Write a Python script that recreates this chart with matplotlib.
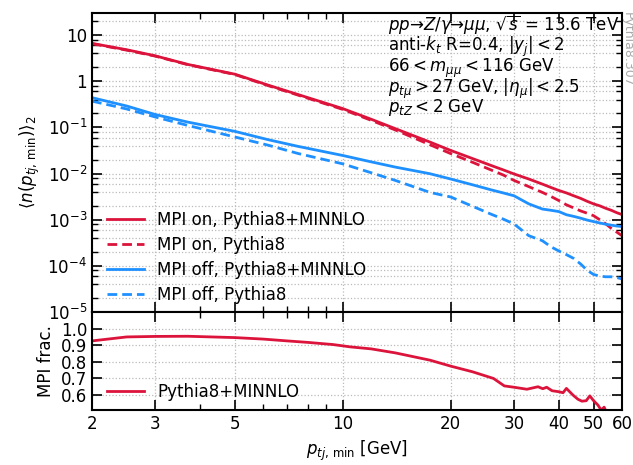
#!/usr/bin/env python
"""
Mean number of jets above p_t,min, MPI on/off, with MPI fraction panel.
"""

import numpy as np
import matplotlib
matplotlib.use("Agg")
import matplotlib.pyplot as plt
from matplotlib.ticker import FixedLocator, FuncFormatter, NullFormatter

# p_t,min values (GeV) for the upper panel
pt = [2, 2.5, 3, 3.7, 5, 6.2, 7.5, 10, 12, 14, 17.5, 20, 23, 26, 28, 30,
      33, 36, 38, 40, 42, 44, 46, 48, 50, 52, 54, 56, 58, 60]

mpi_on_minnlo = [6.6, 4.8, 3.55, 2.31, 1.42, 0.82, 0.515, 0.255, 0.150, 0.094,
                 0.048, 0.0316, 0.0211, 0.0148, 0.0120, 0.0098, 0.0076, 0.0059,
                 0.0050, 0.0043, 0.0038, 0.0033, 0.0029, 0.0025, 0.0022,
                 0.0020, 0.00177, 0.00160, 0.00142, 0.00129]
mpi_on_py8 = [6.5, 4.7, 3.5, 2.28, 1.40, 0.80, 0.50, 0.245, 0.142, 0.088,
              0.042, 0.027, 0.0175, 0.0118, 0.0093, 0.0071, 0.0052, 0.0039,
              0.0032, 0.0026, 0.0021, 0.0018, 0.00155, 0.00138, 0.00122,
              0.00100, 0.00082, 0.00065, 0.00054, 0.00045]
mpi_off_minnlo = [0.44, 0.29, 0.19, 0.13, 0.082, 0.054, 0.0388, 0.0246, 0.0179,
                  0.0138, 0.0099, 0.0076, 0.0057, 0.0044, 0.0038, 0.0033,
                  0.0022, 0.0017, 0.0016, 0.00150, 0.00128, 0.00118, 0.00108,
                  0.00098, 0.00091, 0.00085, 0.00080, 0.00076, 0.00073, 0.00071]
mpi_off_py8 = [0.37, 0.25, 0.168, 0.11, 0.062, 0.041, 0.0272, 0.0162, 0.0104,
               0.0071, 0.0039, 0.0031, 0.00195, 0.0013, 0.00103, 0.00081,
               0.00045, 0.00035, 0.00026, 0.00021, 0.000175, 0.000145,
               0.00011, 8.0e-5, 6.5e-5, 6.0e-5, 5.8e-5, 5.8e-5, 5.6e-5, 5.2e-5]

# lower panel: MPI fraction, Pythia8+MINNLO
frac_pt = [2, 2.5, 3, 3.7, 5, 6, 7, 8, 9.4, 10.5, 12, 14, 17.5, 20, 23, 26.3,
           28.2, 30, 32.6, 35, 36.1, 37, 38.3, 40, 41.1, 42, 43.8, 45.2, 46.4,
           47.7, 48.8, 50, 51.4, 52.5, 53.5, 54.5, 56, 60]
mpi_frac = [0.926, 0.95, 0.953, 0.954, 0.946, 0.937, 0.926, 0.917, 0.904, 0.89,
            0.878, 0.854, 0.81, 0.774, 0.74, 0.70, 0.655, 0.647, 0.635, 0.65,
            0.638, 0.647, 0.626, 0.62, 0.614, 0.64, 0.60, 0.575, 0.563, 0.566,
            0.595, 0.566, 0.54, 0.51, 0.527, 0.49, 0.47, 0.44]

x_major = [2, 3, 5, 10, 20, 30, 40, 50, 60]
x_minor = [4, 6, 7, 8, 9]
frac_ticks = [0.6, 0.7, 0.8, 0.9, 1.0]

RED = '#DC143C'
BLUE = '#1E90FF'
DASH = (0, (3.5, 1.8))

plt.rcParams['font.size'] = 12
plt.rcParams['mathtext.fontset'] = 'dejavusans'


def style_axis(ax):
    ax.tick_params(which='both', direction='in', top=True, right=True,
                   labelsize=12)
    ax.tick_params(which='major', length=7, width=1.2)
    ax.tick_params(which='minor', length=4, width=1.0)
    for s in ax.spines.values():
        s.set_linewidth(1.5)


def log_label(v, pos):
    if v >= 1:
        return f"{v:g}"
    return r"$10^{%d}$" % int(round(np.log10(v)))


def main():
    fig = plt.figure(figsize=(6.33, 4.65), dpi=100)
    ax1 = fig.add_axes([0.1453, 0.329, 0.8373, 0.643])
    ax2 = fig.add_axes([0.1453, 0.1183, 0.8373, 0.2107], sharex=ax1)

    ax1.plot(pt, mpi_on_minnlo, color=RED, lw=2, label='MPI on, Pythia8+MINNLO')
    ax1.plot(pt, mpi_on_py8, color=RED, lw=2, ls=DASH, label='MPI on, Pythia8')
    ax1.plot(pt, mpi_off_minnlo, color=BLUE, lw=2, label='MPI off, Pythia8+MINNLO')
    ax1.plot(pt, mpi_off_py8, color=BLUE, lw=2, ls=DASH, label='MPI off, Pythia8')

    ax1.set_xscale('log')
    ax1.set_yscale('log')
    ax1.set_xlim(2, 60)
    ax1.set_ylim(1e-5, 30)
    ax1.yaxis.set_major_locator(FixedLocator([10.0 ** k for k in range(-5, 2)]))
    ax1.yaxis.set_minor_locator(FixedLocator(
        [m * 10.0 ** k for k in range(-5, 2) for m in (2, 4, 6, 8)]))
    ax1.yaxis.set_major_formatter(FuncFormatter(log_label))
    ax1.yaxis.set_minor_formatter(NullFormatter())
    ax1.grid(True, which='both', axis='y', ls=':', color='#bbbbbb', lw=0.9)
    ax1.grid(True, which='major', axis='x', ls=':', color='#bbbbbb', lw=0.9)
    ax1.set_ylabel(r'$\langle n(p_{tj,\,\mathrm{min}})\rangle_2$', fontsize=12)
    style_axis(ax1)
    ax1.tick_params(labelbottom=False)
    ax1.legend(loc='lower left', frameon=False, fontsize=12, handlelength=2.2,
               labelspacing=0.42, bbox_to_anchor=(0.0, -0.022))

    info = [r'$pp$→$Z/\gamma$→$\mu\mu$, $\sqrt{s}$ = 13.6 TeV',
            r'anti-$k_t$ R=0.4, $|y_j| < 2$',
            r'$66 < m_{\mu\mu} < 116$ GeV',
            r'$p_{t\mu} > 27$ GeV, $|\eta_\mu| < 2.5$',
            r'$p_{tZ} < 2$ GeV']
    ys = [25, 47, 68, 89, 107]
    for line, yp in zip(info, ys):
        fig.text(388 / 633, 1 - yp / 465, line, ha='left', va='center',
                 fontsize=12)

    fig.text(0.991, 0.975, 'Pythia8.307', rotation=270, ha='center',
             va='top', fontsize=9, color='#aaaaaa')

    ax2.plot(frac_pt, mpi_frac, color=RED, lw=2, label='Pythia8+MINNLO')
    ax2.set_ylim(0.51, 1.1)
    ax2.yaxis.set_major_locator(FixedLocator(frac_ticks))
    ax2.yaxis.set_major_formatter(FuncFormatter(lambda v, p: f"{v:.1f}"))
    ax2.grid(True, which='major', ls=':', color='#bbbbbb', lw=0.9)
    ax2.set_ylabel('MPI frac.', fontsize=12)
    ax2.xaxis.set_major_locator(FixedLocator(x_major))
    ax2.xaxis.set_minor_locator(FixedLocator(x_minor))
    ax2.xaxis.set_major_formatter(FuncFormatter(lambda v, p: f"{v:g}"))
    ax2.xaxis.set_minor_formatter(NullFormatter())
    ax2.set_xlabel(r'$p_{tj,\,\mathrm{min}}$ [GeV]', fontsize=12)
    style_axis(ax2)
    ax2.legend(loc='lower left', frameon=False, fontsize=12, handlelength=2.2,
               bbox_to_anchor=(0.0, -0.06))

    fig.savefig('out.png', dpi=100)
    plt.close(fig)


if __name__ == "__main__":
    main()
